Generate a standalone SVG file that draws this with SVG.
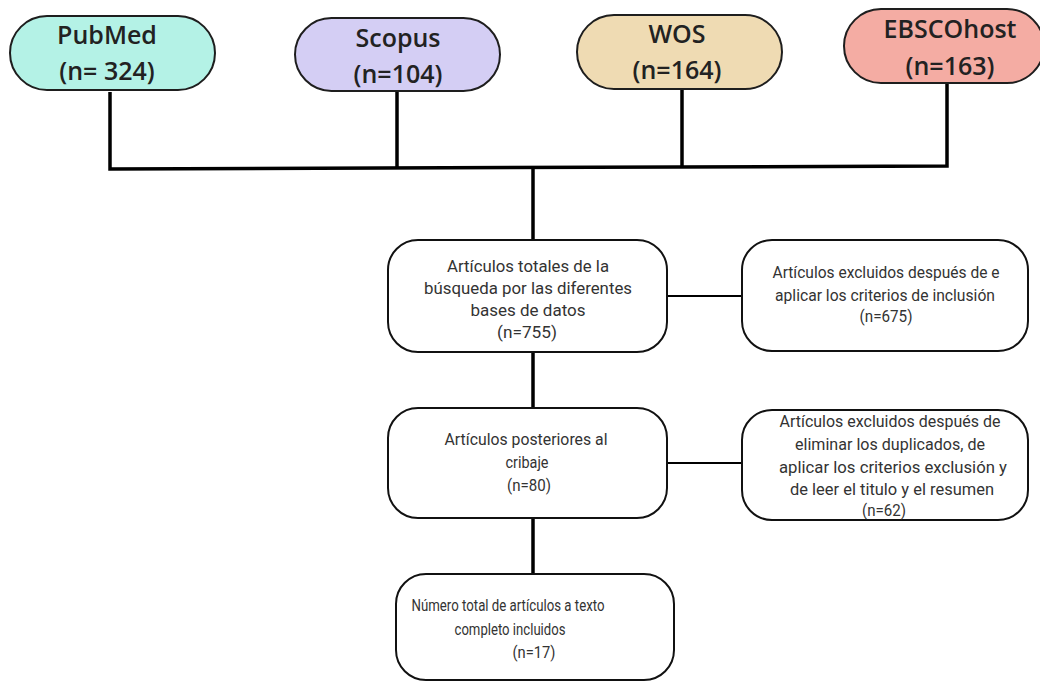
<svg xmlns="http://www.w3.org/2000/svg" width="1040" height="682" viewBox="0 0 1040 682">
<style>
.pill{stroke:#1e1e1e;stroke-width:2}
.box{fill:#ffffff;stroke:#111;stroke-width:2}
.db{font-family:"Open Sans","Noto Sans",sans-serif;font-weight:600;font-size:25px;fill:#222;text-anchor:middle}
.t{font-family:Roboto,"Liberation Sans",sans-serif;font-size:17px;fill:#333;text-anchor:middle}
.ln{stroke:#000;stroke-width:3.5;fill:none}
</style>
<rect width="1040" height="682" fill="#ffffff"/>
<g id="connectors">
<polyline class="ln" points="110,92 110,169 947,166 947,84"/>
<line class="ln" x1="397" y1="91" x2="397" y2="168"/>
<line class="ln" x1="682" y1="90" x2="682" y2="167"/>
<line class="ln" x1="533" y1="168" x2="533" y2="241"/>
<line class="ln" x1="533" y1="352" x2="533" y2="408"/>
<line class="ln" x1="533" y1="518" x2="533" y2="574"/>
<line class="ln" x1="667" y1="296" x2="742" y2="296" style="stroke-width:2"/>
<line class="ln" x1="667" y1="463" x2="742" y2="463" style="stroke-width:2"/>
</g>
<g id="pubmed">
<rect class="pill" x="10" y="16" width="205" height="74" rx="37" fill="#b4f2e6"/>
<text class="db" x="107" y="44">PubMed</text>
<text class="db" x="107" y="80">(n= 324)</text>
</g>
<g id="scopus">
<rect class="pill" x="295" y="18" width="205" height="73" rx="36.5" fill="#d4cef4"/>
<text class="db" x="398" y="47">Scopus</text>
<text class="db" x="398" y="83">(n=104)</text>
</g>
<g id="wos">
<rect class="pill" x="577" y="15" width="205" height="74" rx="37" fill="#efdbb3"/>
<text class="db" x="677" y="43">WOS</text>
<text class="db" x="677" y="79">(n=164)</text>
</g>
<g id="ebsco">
<rect class="pill" x="844" y="9" width="200" height="74" rx="37" fill="#f4aca3"/>
<text class="db" x="950" y="38">EBSCOhost</text>
<text class="db" x="950" y="75">(n=163)</text>
</g>
<g id="total">
<rect class="box" x="388" y="240" width="279" height="112" rx="30"/>
<text class="t" x="528" y="272" textLength="162" lengthAdjust="spacingAndGlyphs">Artículos totales de la</text>
<text class="t" x="528" y="294" textLength="208" lengthAdjust="spacingAndGlyphs">búsqueda por las diferentes</text>
<text class="t" x="528" y="316" textLength="115" lengthAdjust="spacingAndGlyphs">bases de datos</text>
<text class="t" x="527" y="338" textLength="60" lengthAdjust="spacingAndGlyphs">(n=755)</text>
</g>
<g id="excl1">
<rect class="box" x="742" y="240" width="286" height="111" rx="30"/>
<text class="t" x="886" y="278" textLength="227" lengthAdjust="spacingAndGlyphs">Artículos excluidos después de e</text>
<text class="t" x="885" y="301" textLength="220" lengthAdjust="spacingAndGlyphs">aplicar los criterios de inclusión</text>
<text class="t" x="886" y="322" textLength="53" lengthAdjust="spacingAndGlyphs">(n=675)</text>
</g>
<g id="cribaje">
<rect class="box" x="388" y="408" width="279" height="110" rx="30"/>
<text class="t" x="526" y="445" textLength="163" lengthAdjust="spacingAndGlyphs">Artículos posteriores al</text>
<text class="t" x="527" y="468" textLength="43" lengthAdjust="spacingAndGlyphs">cribaje</text>
<text class="t" x="529" y="491" textLength="44" lengthAdjust="spacingAndGlyphs">(n=80)</text>
</g>
<g id="excl2">
<rect class="box" x="742" y="410" width="286" height="110" rx="30"/>
<text class="t" x="890" y="427" textLength="221" lengthAdjust="spacingAndGlyphs">Artículos excluidos después de</text>
<text class="t" x="890" y="450" textLength="190" lengthAdjust="spacingAndGlyphs">eliminar los duplicados, de</text>
<text class="t" x="893" y="473" textLength="228" lengthAdjust="spacingAndGlyphs">aplicar los criterios exclusión y</text>
<text class="t" x="892" y="495" textLength="204" lengthAdjust="spacingAndGlyphs">de leer el titulo y el resumen</text>
<text class="t" x="884" y="516" textLength="44" lengthAdjust="spacingAndGlyphs">(n=62)</text>
</g>
<g id="final">
<rect class="box" x="396" y="574" width="278" height="106" rx="30"/>
<text class="t" x="508" y="611" textLength="193" lengthAdjust="spacingAndGlyphs">Número total de artículos a texto</text>
<text class="t" x="510" y="635" textLength="111" lengthAdjust="spacingAndGlyphs">completo incluidos</text>
<text class="t" x="534" y="658" textLength="43" lengthAdjust="spacingAndGlyphs">(n=17)</text>
</g>
</svg>
